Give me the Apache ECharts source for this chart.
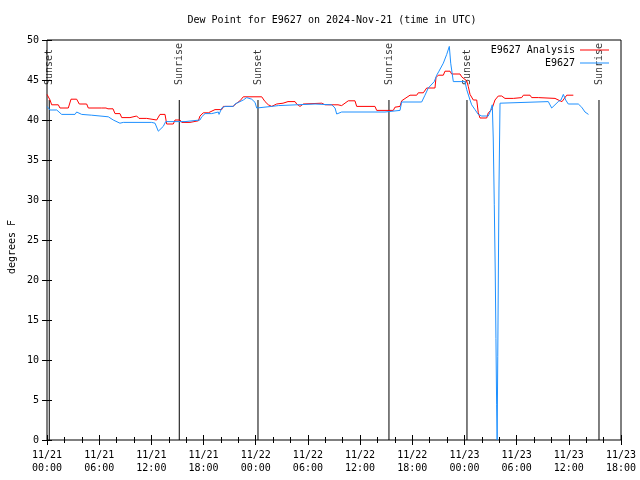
<!DOCTYPE html>
<html><head><meta charset="utf-8">
<script src="https://cdn.jsdelivr.net/npm/echarts@6/dist/echarts.min.js"></script>
<style>html,body{margin:0;padding:0;background:#fff}#c{width:640px;height:480px}</style>
</head><body><div id="c"></div>
<script>
const titleText = 'Dew Point for E9627 on 2024-Nov-21 (time in UTC)';
const yAxisTitle = 'degrees F';
const seriesNames = ['E9627 Analysis', 'E9627'];
const startMonth = 11, startDay = 21;           // x axis origin: 2024-11-21 00:00 UTC, x in hours
const xMin = 0, xMax = 66, xInterval = 6;
const yMin = 0, yMax = 50, yInterval = 5;

const analysisHours = [0, 0.35, 0.54, 1.30, 1.49, 2.45, 2.76, 3.41, 3.71, 4.56,
  4.75, 6.29, 6.47, 6.78, 7.01, 7.59, 7.82, 8.39, 8.59, 9.54,
  9.66, 10.31, 10.58, 11.46, 11.65, 12.61, 12.99, 13.57, 13.76, 14.52,
  14.72, 15.29, 15.49, 16.44, 16.64, 17.40, 17.59, 17.97, 18.55, 18.74,
  19.32, 20.09, 20.27, 21.39, 21.81, 22.19, 22.57, 24.69, 25.07, 25.45,
  25.84, 26.41, 27.14, 27.71, 28.52, 28.71, 29.09, 29.47, 29.67, 31.59,
  31.96, 33.46, 33.88, 34.64, 35.41, 35.61, 37.71, 37.91, 39.82, 40.01,
  40.59, 40.78, 41.74, 42.51, 42.69, 43.27, 43.66, 44.61, 44.73, 44.99,
  45.57, 45.76, 46.34, 46.53, 47.49, 47.68, 48.26, 48.44, 48.64, 49.02,
  49.41, 49.59, 49.79, 50.56, 50.74, 51.13, 51.51, 51.89, 52.28, 52.66,
  53.62, 53.81, 54.58, 54.77, 55.54, 55.73, 56.49, 56.69, 58.41, 58.61,
  58.99, 59.22, 59.76, 60.52];
const analysisValues = [43.2, 42.5, 41.9, 41.9, 41.5, 41.5, 42.6, 42.6, 42.0, 42.0,
  41.5, 41.5, 41.6, 41.5, 41.4, 41.4, 40.8, 40.8, 40.3, 40.3,
  40.5, 40.5, 40.2, 40.2, 40.0, 40.0, 40.7, 40.7, 39.5, 39.5,
  40.0, 40.0, 39.7, 39.7, 39.9, 39.9, 40.5, 40.9, 40.9, 41.1,
  41.3, 41.3, 41.7, 41.7, 42.1, 42.4, 42.9, 42.9, 42.3, 41.9,
  41.7, 42.0, 42.1, 42.3, 42.3, 42.0, 41.7, 42.0, 42.1, 42.1,
  41.9, 41.9, 41.8, 42.4, 42.4, 41.7, 41.7, 41.2, 41.2, 41.6,
  41.7, 42.4, 43.1, 43.1, 43.4, 43.4, 44.0, 44.0, 45.3, 45.6,
  45.6, 46.1, 46.1, 45.75, 45.75, 45.4, 44.9, 44.2, 43.2, 42.5,
  42.5, 40.9, 40.25, 40.25, 40.9, 41.3, 42.5, 43.0, 43.0, 42.7,
  42.7, 42.8, 42.8, 43.1, 43.1, 42.8, 42.8, 42.7, 42.7, 42.6,
  42.4, 42.3, 43.1, 43.1];

const obsHours = [0, 0.35, 1.12, 1.30, 1.69, 3.22, 3.41, 3.99, 5.14, 7.05,
  7.62, 8.39, 8.77, 12.04, 12.42, 12.80, 13.37, 13.65, 15.87, 16.06, 17.59,
  17.79, 18.17, 18.94, 19.12, 19.70, 19.78, 20.09, 20.47, 21.42, 21.62,
  22.57, 22.96, 23.54, 23.92, 24.11, 25.84, 26.60, 30.82, 31.01, 32.74,
  33.12, 33.31, 33.88, 38.86, 39.06, 40.59, 40.78, 43.08, 43.46, 43.84,
  44.53, 44.81, 45.07, 45.57, 45.96, 46.26, 46.42, 46.72, 48.06, 48.26,
  48.64, 48.83, 49.21, 49.59, 49.98, 50.74, 50.94, 51.13, 51.20, 51.31,
  51.43, 51.54, 51.62, 51.70, 51.76, 51.83, 51.97, 52.09, 52.20, 57.64,
  58.03, 58.21, 58.41, 58.79, 59.10, 59.37, 59.64, 59.94, 61.09, 61.48,
  61.86, 62.26];
const obsValues = [41.7, 41.25, 41.25, 41.5, 40.7, 40.7, 41.0, 40.7, 40.6, 40.4,
  40.0, 39.6, 39.7, 39.7, 39.6, 38.6, 39.2, 39.8, 39.8, 40.0, 40.0,
  40.4, 40.8, 40.8, 41.0, 41.0, 40.7, 41.5, 41.7, 41.7, 42.0,
  42.5, 42.8, 42.6, 42.2, 41.5, 41.7, 41.8, 42.0, 41.9, 41.9,
  41.5, 40.75, 41.0, 41.0, 41.2, 41.2, 42.25, 42.25, 43.1, 44.0,
  44.8, 45.6, 46.1, 47.1, 48.2, 49.2, 47.1, 44.8, 44.8, 43.8,
  42.5, 41.9, 41.3, 40.7, 40.5, 40.5, 41.0, 41.2, 41.9, 37.75,
  29.4, 21.0, 12.7, 4.4, 0, 10.4, 31.5, 42.1, 42.3, 42.3,
  41.5, 41.4, 41.9, 42.3, 42.5, 43.2, 42.5, 42.0, 42.0, 41.6,
  41.0, 40.7];

const sunsetHours = [0.26, 24.26, 48.29];
const sunriseHours = [15.21, 39.32, 63.47];
const markerTop = 42.5;
const markerLabelAt = 43.5;

const FONT = 'DejaVu Sans Mono';
const colors = ['#ff0000', '#1e90ff'];
const legendLineIcon = 'path://M0,0H29V1H0Z';

function zip(a, b) { return a.map((v, i) => [v, b[i]]); }
function pad(n) { return (n < 10 ? '0' : '') + n; }
function fmtX(v) {
  const day = startDay + Math.floor(v / 24);
  const hh = Math.round(v % 24);
  return pad(startMonth) + '/' + day + '\n' + pad(hh) + ':00';
}

const markerSeries = [];
const markerLabels = [];
sunsetHours.forEach(t => { markerLabels.push([t, markerLabelAt, 'Sunset']); });
sunriseHours.forEach(t => { markerLabels.push([t, markerLabelAt, 'Sunrise']); });
sunsetHours.concat(sunriseHours).forEach(t => {
  markerSeries.push({
    type: 'line', data: [[t, yMin], [t, markerTop]], symbol: 'none', silent: true,
    lineStyle: { color: '#000', width: 1 }, z: 1, animation: false
  });
});

const tickCommon = {
  axisTick: { show: true, inside: true, length: 5, lineStyle: { color: '#000', width: 1 } },
  axisLine: { show: false },
  splitLine: { show: false }
};

const option = {
  animation: false,
  backgroundColor: '#fff',
  graphic: [
    { type: 'text', x: 332, y: 20, style: { text: titleText, font: '10px ' + FONT, fill: '#000', align: 'center', verticalAlign: 'middle' } },
    { type: 'text', x: 12, y: 247, rotation: Math.PI / 2, style: { text: yAxisTitle, font: '10px ' + FONT, fill: '#000', align: 'center', verticalAlign: 'middle' } }
  ],
  grid: { left: 47, right: 19, top: 40, bottom: 40, show: true, borderColor: '#000', borderWidth: 1, backgroundColor: 'transparent' },
  legend: {
    orient: 'vertical', align: 'right', right: 31, top: 45, padding: 0,
    itemWidth: 29, itemHeight: 13, itemGap: 3, symbolKeepAspect: true,
    data: seriesNames.map(n => ({ name: n, icon: legendLineIcon })),
    textStyle: { fontFamily: FONT, fontSize: 10, color: '#000' }
  },
  xAxis: [
    Object.assign({
      type: 'value', min: xMin, max: xMax, interval: xInterval, position: 'bottom',
      minorTick: { show: true, splitNumber: 3, length: 3, lineStyle: { color: '#000' } },
      axisLabel: { formatter: fmtX, fontFamily: FONT, fontSize: 10, color: '#000', lineHeight: 13, margin: 9 }
    }, tickCommon),
    Object.assign({
      type: 'value', min: xMin, max: xMax, interval: xInterval, position: 'top',
      minorTick: { show: true, splitNumber: 3, length: 3, lineStyle: { color: '#000' } },
      axisLabel: { show: false }
    }, tickCommon)
  ],
  yAxis: [
    Object.assign({
      type: 'value', min: yMin, max: yMax, interval: yInterval, position: 'left',
      axisLabel: { fontFamily: FONT, fontSize: 10, color: '#000', margin: 8 }
    }, tickCommon),
    Object.assign({
      type: 'value', min: yMin, max: yMax, interval: yInterval, position: 'right',
      axisLabel: { show: false }
    }, tickCommon)
  ],
  series: markerSeries.concat([
    {
      type: 'scatter', data: markerLabels, symbolSize: 0, silent: true, z: 3,
      label: {
        show: true, position: 'inside', rotate: 90, align: 'left', verticalAlign: 'middle',
        offset: [7, 0],
        formatter: p => p.value[2], fontFamily: FONT, fontSize: 10, color: '#000'
      }
    },
    {
      name: seriesNames[0], type: 'line', data: zip(analysisHours, analysisValues), symbol: 'none',
      color: colors[0], itemStyle: { color: colors[0] }, lineStyle: { color: colors[0], width: 1 }, z: 4
    },
    {
      name: seriesNames[1], type: 'line', data: zip(obsHours, obsValues), symbol: 'none',
      color: colors[1], itemStyle: { color: colors[1] }, lineStyle: { color: colors[1], width: 1 }, z: 5
    }
  ])
};

const chart = echarts.init(document.getElementById('c'), null, { renderer: 'canvas' });
chart.setOption(option);
</script>
</body></html>
